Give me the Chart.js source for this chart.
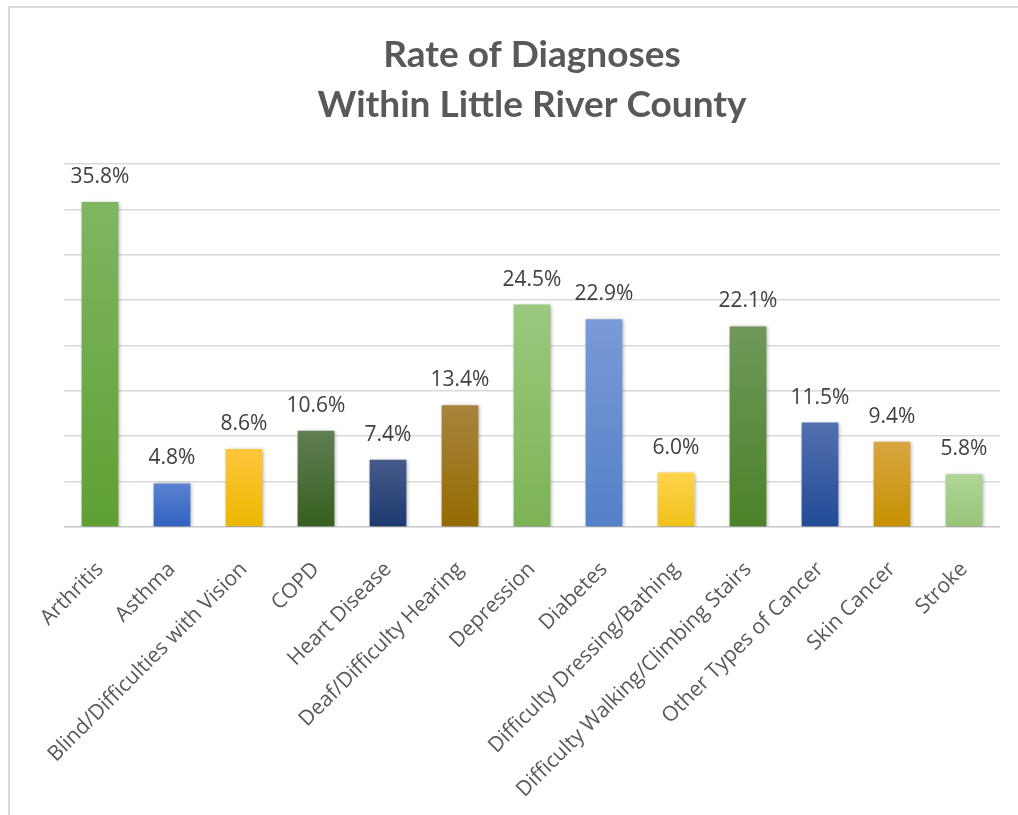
<!DOCTYPE html>
<html>
<head>
<meta charset="utf-8">
<script src="https://cdn.jsdelivr.net/npm/chart.js@4.4.1/dist/chart.umd.min.js"></script>
<style>
  body { margin: 0; background: #fff; overflow: hidden; }
  #frame {
    position: absolute; left: 8px; top: 6px; width: 1100px; height: 900px;
    border-left: 2px solid #d9d9d9; border-top: 2px solid #d9d9d9;
  }
  #chart { position: absolute; left: 0; top: 0; }
</style>
</head>
<body>
<div id="frame"></div>
<canvas id="chart" width="1018" height="815"></canvas>
<script>
// data
const categories = [
    'Arthritis', 'Asthma', 'Blind/Difficulties with Vision', 'COPD', 'Heart Disease',
    'Deaf/Difficulty Hearing', 'Depression', 'Diabetes', 'Difficulty Dressing/Bathing',
    'Difficulty Walking/Climbing Stairs', 'Other Types of Cancer', 'Skin Cancer', 'Stroke'
];
const values = [35.8, 4.8, 8.6, 10.6, 7.4, 13.4, 24.5, 22.9, 6.0, 22.1, 11.5, 9.4, 5.8];
const yMax = 40;
const yStep = 5;

// bar gradient colours (top -> bottom)
const topColors = [
    '#80b662', '#5c82d0', '#ffc63c', '#607f54', '#475b8a', '#a8843e', '#9ac97f',
    '#7b9ad8', '#ffd44e', '#70985a', '#5370b0', '#d8a642', '#afd597'
];
const bottomColors = [
    '#5fa033', '#2f62bf', '#ebb700', '#365e1e', '#1c386f', '#946b00', '#7cb354',
    '#5480c7', '#eec11a', '#4b8229', '#224a96', '#c79100', '#97c479'
];

function barGradient(ctx) {
    const i = ctx.dataIndex;
    const chart = ctx.chart;
    if (!chart.chartArea || ctx.type !== 'data') return bottomColors[i];
    const y = chart.scales.y;
    const g = chart.ctx.createLinearGradient(0, y.getPixelForValue(values[i]), 0, y.getPixelForValue(0));
    g.addColorStop(0, topColors[i]);
    g.addColorStop(1, bottomColors[i]);
    return g;
}

// soft shadow under the bars + value labels on top
const barExtras = {
    id: 'barExtras',
    beforeDatasetsDraw(chart) {
        const c = chart.ctx;
        c.save();
        c.shadowColor = 'rgba(0,0,0,0.35)';
        c.shadowBlur = 4;
        c.shadowOffsetX = 1;
        c.shadowOffsetY = 1;
    },
    afterDatasetsDraw(chart) {
        const c = chart.ctx;
        c.restore();
        c.save();
        c.font = '21px "Open Sans"';
        c.fillStyle = '#404040';
        c.textAlign = 'center';
        c.textBaseline = 'middle';
        chart.getDatasetMeta(0).data.forEach((bar, i) => {
            c.fillText(values[i].toFixed(1) + '%', bar.x, bar.y - 25);
        });
        c.restore();
    }
};

new Chart(document.getElementById('chart').getContext('2d'), {
    type: 'bar',
    data: {
        labels: categories,
        datasets: [{
            data: values,
            backgroundColor: barGradient,
            borderWidth: 0,
            barPercentage: 0.51,
            categoryPercentage: 1
        }]
    },
    plugins: [barExtras],
    options: {
        responsive: false,
        animation: false,
        devicePixelRatio: 1,
        layout: {
            padding: { left: 64, right: 18, top: 0, bottom: 0 }
        },
        plugins: {
            legend: { display: false },
            tooltip: { enabled: false },
            title: {
                display: true,
                text: ['Rate of Diagnoses', 'Within Little River County'],
                color: '#595959',
                font: { family: 'Lato', size: 37, weight: 'bold', lineHeight: 1.35 },
                padding: { top: 30, bottom: 34 }
            }
        },
        scales: {
            y: {
                min: 0,
                max: yMax,
                ticks: { display: false, stepSize: yStep },
                border: { display: false },
                grid: {
                    drawTicks: false,
                    lineWidth: 1.5,
                    color: ctx => ctx.tick && ctx.tick.value === 0 ? '#c6c6c6' : '#d9d9d9'
                },
                afterFit: s => { s.width = 0; }
            },
            x: {
                grid: { display: false },
                border: { display: false },
                ticks: {
                    color: '#595959',
                    font: { family: '"Open Sans"', size: 21 },
                    maxRotation: 45,
                    minRotation: 45,
                    autoSkip: false,
                    padding: 22
                },
                afterFit: s => { s.height = 815 - 527; }
            }
        }
    }
});
</script>
</body>
</html>
